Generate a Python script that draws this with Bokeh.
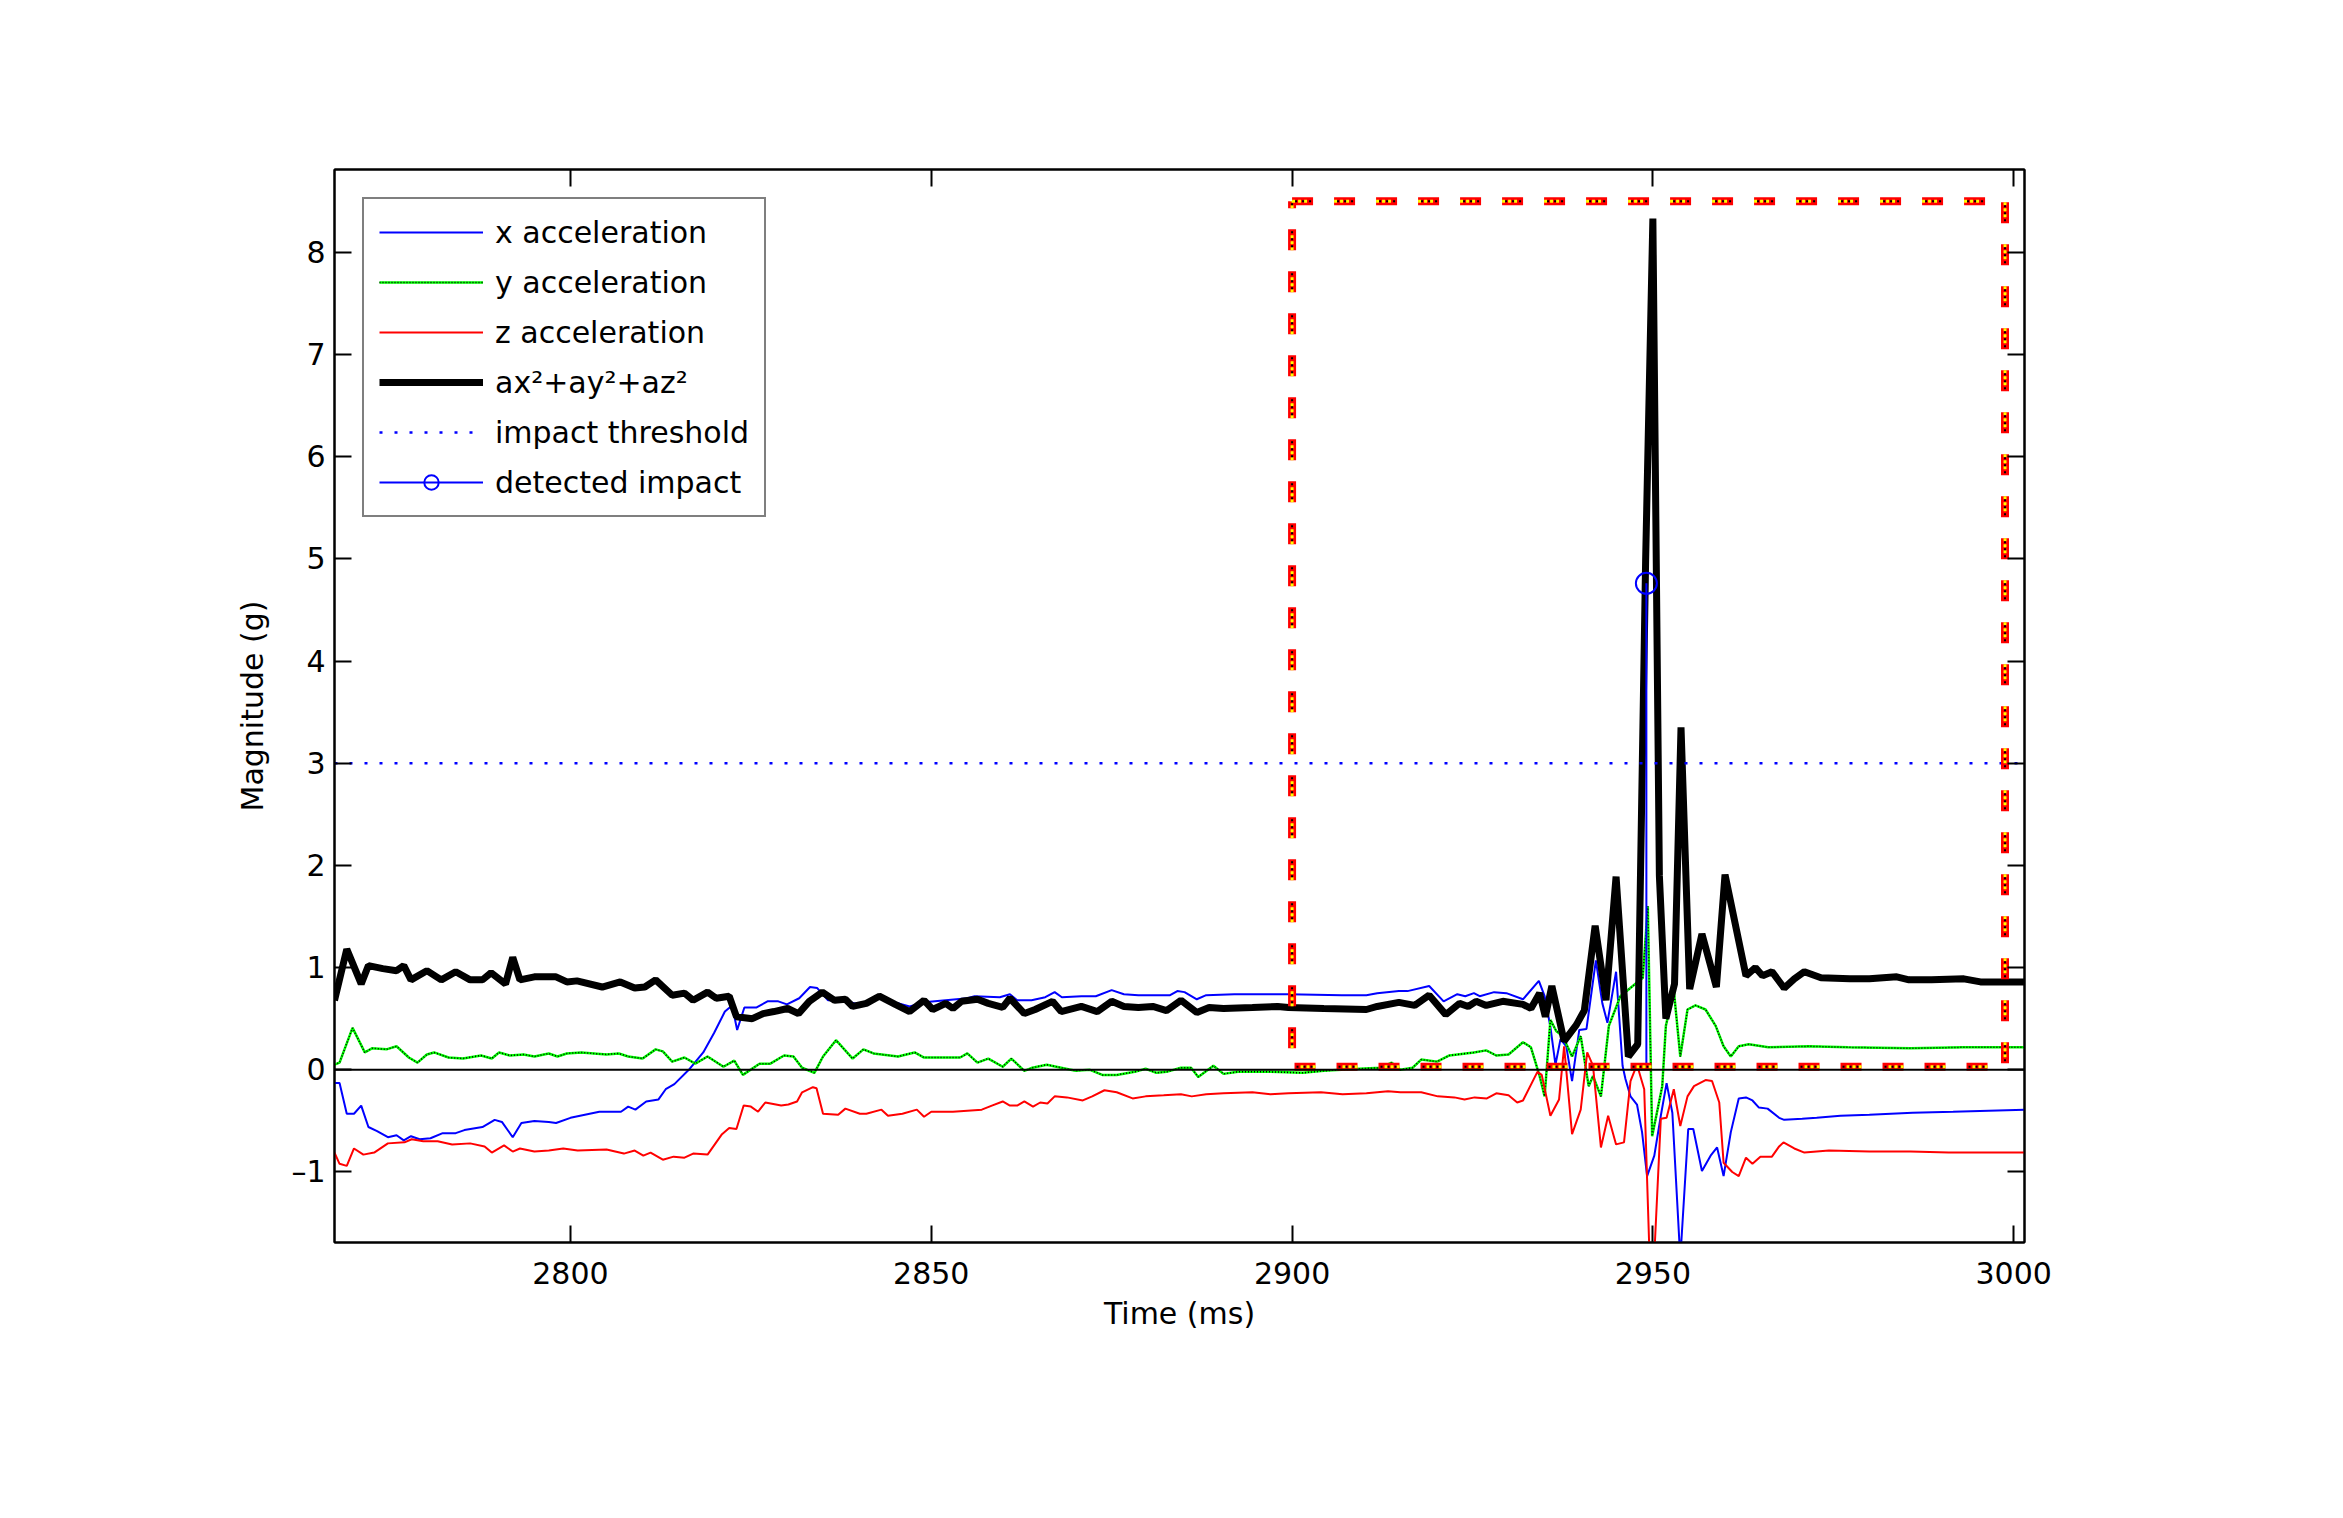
from bokeh.plotting import figure
from bokeh.models import Range1d, LinearAxis, FixedTicker, Span, Legend, LegendItem
from bokeh.embed import file_html
from bokeh.resources import INLINE

# x acceleration
ax_t = [2767.3, 2768.0, 2769.0, 2770.0, 2771.0, 2772.0, 2773.2, 2774.7, 2775.9, 2776.9,
        2777.9, 2779.1, 2780.6, 2782.3, 2784.1, 2785.3, 2787.8, 2789.5, 2790.5, 2792.0,
        2793.2, 2795.0, 2797.0, 2798.0, 2800.0, 2802.0, 2804.0, 2807.0, 2808.0, 2809.0,
        2810.5, 2812.2, 2813.2, 2814.4, 2816.4, 2818.4, 2819.9, 2821.4, 2822.4, 2823.1,
        2824.1, 2825.8, 2827.3, 2828.8, 2830.0, 2831.7, 2833.2, 2834.2, 2835.7, 2838.2,
        2840.0, 2843.0, 2845.0, 2847.0, 2849.0, 2852.0, 2855.0, 2856.0, 2859.5, 2860.9,
        2861.9, 2863.9, 2865.8, 2867.1, 2868.1, 2870.8, 2872.8, 2875.0, 2876.7, 2878.7,
        2883.1, 2884.1, 2885.1, 2886.8, 2888.1, 2892.0, 2899.5, 2906.9, 2910.3, 2911.8,
        2914.8, 2916.0, 2919.0, 2921.0, 2922.9, 2924.0, 2925.2, 2926.0, 2928.0, 2929.7,
        2932.0, 2934.2, 2935.0, 2935.8, 2936.5, 2937.2, 2938.0, 2938.8, 2939.8, 2940.8,
        2942.1, 2943.0, 2943.7, 2944.9, 2945.8, 2946.2, 2946.9, 2947.8, 2948.5, 2949.2,
        2950.2, 2951.1, 2951.9, 2952.7, 2953.8, 2954.9, 2955.6, 2956.8, 2958.0, 2958.9,
        2959.8, 2960.8, 2961.9, 2962.9, 2963.8, 2964.7, 2965.9, 2967.5, 2968.2, 2970.7,
        2972.7, 2976.0, 2980.0, 2986.0, 2991.6, 3001.5]
ax_v = [-0.13, -0.13, -0.43, -0.43, -0.35, -0.56, -0.60, -0.66, -0.64, -0.69,
        -0.65, -0.68, -0.67, -0.62, -0.62, -0.59, -0.56, -0.49, -0.51, -0.66,
        -0.52, -0.50, -0.51, -0.52, -0.47, -0.44, -0.41, -0.41, -0.36, -0.39,
        -0.31, -0.29, -0.19, -0.14, 0.00, 0.17, 0.36, 0.57, 0.63, 0.39,
        0.61, 0.61, 0.67, 0.67, 0.64, 0.70, 0.81, 0.80, 0.68, 0.67,
        0.64, 0.70, 0.66, 0.62, 0.66, 0.68, 0.70, 0.72, 0.71, 0.74,
        0.68, 0.68, 0.71, 0.76, 0.71, 0.72, 0.72, 0.78, 0.74, 0.73,
        0.73, 0.77, 0.76, 0.69, 0.73, 0.74, 0.74, 0.73, 0.73, 0.75,
        0.77, 0.77, 0.82, 0.67, 0.74, 0.72, 0.75, 0.72, 0.76, 0.75,
        0.69, 0.87, 0.72, 0.42, 0.05, 0.30, 0.23, -0.11, 0.39, 0.40,
        1.07, 0.65, 0.46, 0.96, 0.04, -0.09, -0.26, -0.34, -0.61, -1.04,
        -0.84, -0.45, -0.13, -0.42, -1.85, -0.58, -0.58, -0.99, -0.84, -0.76,
        -1.04, -0.61, -0.28, -0.27, -0.30, -0.37, -0.38, -0.47, -0.49, -0.48,
        -0.47, -0.45, -0.44, -0.42, -0.41, -0.39]

# y acceleration
ay_t = [2767.3, 2768.0, 2769.8, 2771.5, 2772.5, 2774.5, 2775.9, 2777.6, 2778.8, 2780.1,
        2781.1, 2783.1, 2785.1, 2787.6, 2789.1, 2790.1, 2791.6, 2793.5, 2795.0, 2797.0,
        2798.2, 2799.5, 2801.5, 2805.0, 2806.7, 2808.0, 2810.0, 2811.8, 2812.8, 2814.1,
        2815.8, 2817.3, 2819.0, 2821.2, 2822.7, 2823.9, 2826.2, 2827.7, 2829.6, 2830.9,
        2832.1, 2833.8, 2835.0, 2836.8, 2839.1, 2840.6, 2842.0, 2845.4, 2847.7, 2849.0,
        2851.5, 2854.0, 2855.0, 2856.4, 2857.9, 2859.9, 2861.1, 2862.9, 2864.0, 2866.0,
        2868.0, 2870.0, 2872.0, 2873.7, 2875.7, 2878.2, 2879.7, 2881.2, 2882.6, 2884.6,
        2886.0, 2887.0, 2889.1, 2890.5, 2892.5, 2897.0, 2901.5, 2904.4, 2909.3, 2912.3,
        2913.8, 2915.0, 2916.7, 2917.9, 2920.1, 2921.8, 2925.2, 2926.9, 2928.3, 2930.0,
        2932.0, 2933.1, 2934.3, 2935.0, 2935.8, 2936.6, 2937.5, 2938.8, 2940.0, 2941.1,
        2941.7, 2942.8, 2943.9, 2945.5, 2948.6, 2949.3, 2949.9, 2951.3, 2951.8, 2952.9,
        2953.8, 2954.8, 2955.9, 2957.3, 2958.7, 2959.8, 2960.8, 2961.9, 2963.3, 2966.0,
        2971.6, 2977.0, 2985.7, 2993.0, 3001.5]
ay_v = [0.05, 0.07, 0.41, 0.17, 0.21, 0.20, 0.23, 0.12, 0.07, 0.15,
        0.17, 0.12, 0.11, 0.14, 0.11, 0.17, 0.14, 0.15, 0.13, 0.16,
        0.13, 0.16, 0.17, 0.15, 0.16, 0.13, 0.11, 0.20, 0.18, 0.08,
        0.12, 0.06, 0.13, 0.03, 0.09, -0.05, 0.06, 0.06, 0.14, 0.13,
        0.02, -0.03, 0.13, 0.29, 0.11, 0.20, 0.16, 0.13, 0.17, 0.12,
        0.12, 0.12, 0.16, 0.07, 0.11, 0.03, 0.11, -0.01, 0.02, 0.05,
        0.02, -0.01, 0.00, -0.05, -0.05, -0.02, 0.01, -0.03, -0.02, 0.02,
        0.02, -0.07, 0.04, -0.04, -0.02, -0.02, -0.03, -0.01, 0.01, 0.02,
        0.07, 0.00, 0.02, 0.10, 0.08, 0.14, 0.17, 0.19, 0.14, 0.15,
        0.27, 0.22, -0.06, -0.26, 0.49, 0.38, 0.33, 0.13, 0.33, -0.16,
        -0.06, -0.26, 0.43, 0.72, 0.90, 1.60, -0.65, -0.16, 0.43, 0.78,
        0.13, 0.59, 0.63, 0.59, 0.43, 0.23, 0.13, 0.23, 0.25, 0.22,
        0.23, 0.22, 0.21, 0.22, 0.22]

# z acceleration
az_t = [2767.3, 2768.0, 2769.0, 2770.0, 2771.3, 2772.8, 2774.7, 2777.0, 2778.0, 2779.6,
        2781.6, 2783.6, 2786.1, 2788.1, 2789.1, 2790.8, 2792.0, 2793.0, 2795.0, 2797.0,
        2799.0, 2801.0, 2805.0, 2807.4, 2808.9, 2810.1, 2811.1, 2812.8, 2814.3, 2815.8,
        2817.0, 2819.0, 2821.0, 2822.0, 2823.0, 2824.0, 2825.0, 2826.0, 2827.0, 2829.2,
        2830.2, 2831.4, 2832.1, 2833.6, 2834.1, 2835.0, 2837.1, 2838.1, 2840.1, 2841.0,
        2843.1, 2844.0, 2846.0, 2848.0, 2849.0, 2850.0, 2853.0, 2857.0, 2858.4, 2859.9,
        2860.9, 2861.9, 2862.9, 2864.1, 2865.1, 2866.1, 2867.1, 2868.8, 2871.0, 2872.3,
        2874.0, 2875.7, 2877.9, 2879.7, 2882.2, 2884.6, 2886.1, 2888.1, 2890.5, 2894.5,
        2897.0, 2899.5, 2904.0, 2907.0, 2910.3, 2913.3, 2915.0, 2917.9, 2920.2, 2922.5,
        2923.9, 2925.3, 2927.0, 2928.3, 2930.0, 2931.2, 2932.0, 2934.0, 2934.6, 2935.8,
        2937.0, 2937.7, 2938.8, 2940.0, 2940.9, 2941.7, 2942.8, 2943.8, 2944.9, 2946.0,
        2946.9, 2947.8, 2948.8, 2949.8, 2951.1, 2951.9, 2952.9, 2953.8, 2954.8, 2955.7,
        2957.3, 2958.2, 2959.2, 2959.8, 2961.0, 2961.9, 2962.9, 2963.8, 2964.9, 2966.5,
        2967.5, 2968.1, 2969.6, 2971.0, 2974.4, 2980.0, 2985.7, 2991.0, 3001.5]
az_v = [-0.81, -0.92, -0.94, -0.77, -0.83, -0.81, -0.72, -0.71, -0.68, -0.70,
        -0.70, -0.73, -0.72, -0.75, -0.81, -0.74, -0.80, -0.77, -0.80, -0.79,
        -0.77, -0.79, -0.78, -0.82, -0.79, -0.84, -0.81, -0.88, -0.85, -0.86,
        -0.82, -0.83, -0.63, -0.57, -0.58, -0.35, -0.36, -0.41, -0.32, -0.35,
        -0.34, -0.31, -0.22, -0.17, -0.18, -0.43, -0.44, -0.38, -0.43, -0.43,
        -0.39, -0.45, -0.43, -0.39, -0.46, -0.41, -0.41, -0.39, -0.35, -0.31,
        -0.35, -0.35, -0.31, -0.36, -0.32, -0.33, -0.26, -0.27, -0.30, -0.26,
        -0.20, -0.22, -0.28, -0.26, -0.25, -0.24, -0.26, -0.24, -0.23, -0.22,
        -0.24, -0.23, -0.22, -0.24, -0.23, -0.21, -0.22, -0.22, -0.26, -0.27,
        -0.29, -0.27, -0.28, -0.23, -0.25, -0.32, -0.30, -0.02, -0.05, -0.45,
        -0.29, 0.23, -0.63, -0.39, 0.17, 0.04, -0.76, -0.45, -0.73, -0.71,
        -0.11, 0.05, -0.19, -2.40, -0.48, -0.47, -0.19, -0.55, -0.26, -0.16,
        -0.10, -0.11, -0.32, -0.91, -1.00, -1.04, -0.86, -0.92, -0.85, -0.85,
        -0.75, -0.71, -0.77, -0.81, -0.79, -0.80, -0.80, -0.81, -0.81]

# magnitude ax^2+ay^2+az^2
mag_t = [2767.3, 2769.0, 2771.0, 2772.0, 2774.0, 2775.9, 2776.9, 2777.9, 2780.1, 2782.1,
         2784.1, 2786.1, 2787.8, 2789.0, 2791.0, 2792.0, 2793.0, 2795.0, 2798.0, 2799.5,
         2800.9, 2804.4, 2806.9, 2808.9, 2810.3, 2811.8, 2814.1, 2815.8, 2817.0, 2819.0,
         2820.2, 2822.0, 2823.0, 2825.2, 2826.7, 2828.2, 2830.1, 2831.6, 2833.1, 2834.9,
         2836.6, 2838.1, 2839.1, 2841.0, 2842.8, 2845.0, 2847.0, 2849.0, 2850.2, 2852.0,
         2853.0, 2854.2, 2856.4, 2857.9, 2859.9, 2860.9, 2862.9, 2864.4, 2866.8, 2868.0,
         2870.8, 2873.0, 2875.0, 2876.7, 2878.7, 2880.7, 2882.6, 2884.6, 2886.8, 2888.5,
         2890.5, 2894.5, 2898.0, 2899.5, 2904.4, 2910.3, 2911.8, 2914.8, 2917.0, 2919.0,
         2921.3, 2923.2, 2924.4, 2925.5, 2926.9, 2929.2, 2932.0, 2933.1, 2934.3, 2935.1,
         2936.0, 2937.7, 2939.4, 2940.5, 2942.0, 2943.5, 2944.9, 2946.6, 2947.9, 2949.0,
         2950.0, 2950.9, 2951.8, 2953.0, 2953.9, 2955.1, 2956.8, 2958.8, 2960.0, 2962.9,
         2964.2, 2965.2, 2966.5, 2968.2, 2969.6, 2971.0, 2973.3, 2977.3, 2980.0, 2983.8,
         2985.5, 2988.6, 2993.1, 2995.4, 3001.5]
mag_v = [0.68, 1.18, 0.84, 1.02, 0.99, 0.97, 1.02, 0.88, 0.97, 0.88,
         0.96, 0.88, 0.88, 0.95, 0.84, 1.10, 0.88, 0.91, 0.91, 0.86,
         0.87, 0.81, 0.86, 0.80, 0.81, 0.88, 0.73, 0.75, 0.68, 0.76,
         0.70, 0.72, 0.52, 0.50, 0.55, 0.57, 0.60, 0.55, 0.67, 0.76,
         0.68, 0.69, 0.62, 0.65, 0.72, 0.64, 0.57, 0.68, 0.59, 0.65,
         0.60, 0.67, 0.69, 0.65, 0.61, 0.70, 0.55, 0.59, 0.67, 0.57,
         0.62, 0.57, 0.67, 0.62, 0.61, 0.62, 0.58, 0.68, 0.56, 0.61,
         0.60, 0.61, 0.62, 0.61, 0.60, 0.59, 0.62, 0.66, 0.63, 0.73,
         0.54, 0.65, 0.62, 0.67, 0.63, 0.67, 0.64, 0.60, 0.75, 0.52,
         0.82, 0.28, 0.44, 0.58, 1.41, 0.68, 1.89, 0.13, 0.25, 5.00,
         8.33, 1.90, 0.50, 0.84, 3.35, 0.79, 1.33, 0.81, 1.91, 0.92,
         1.00, 0.92, 0.96, 0.80, 0.89, 0.96, 0.90, 0.89, 0.89, 0.91,
         0.88, 0.88, 0.89, 0.86, 0.86]

# impact threshold and detected impact
thr_t = [2767.3, 3001.5]
thr_v = [3.0, 3.0]
imp_t = [2949.1]
imp_v = [4.76]

# highlighted window
box_t = [2900.0, 2998.8, 2998.8, 2900.0, 2900.0]
box_v = [8.5, 8.5, 0.03, 0.03, 8.5]

x_ticks = [2800, 2850, 2900, 2950, 3000]
y_ticks = [-1, 0, 1, 2, 3, 4, 5, 6, 7, 8]

FONT = "DejaVu Sans"
FS = "30px"

p = figure(width=2335, height=1510, output_backend="svg", toolbar_location=None,
           x_range=Range1d(2767.3, 3001.5), y_range=Range1d(-1.69, 8.81),
           min_border_left=334, min_border_right=311, min_border_top=169, min_border_bottom=268)
p.xgrid.visible = False
p.ygrid.visible = False
p.outline_line_color = "black"
p.outline_line_width = 2
p.background_fill_color = "white"
p.border_fill_color = "white"

bottom = p.below[0]
left = p.left[0]

bottom.ticker = FixedTicker(ticks=x_ticks)
left.ticker = FixedTicker(ticks=y_ticks)
left.major_label_overrides = {-1: "\u20131"}
bottom.axis_label = "Time (ms)"
left.axis_label = "Magnitude (g)"

# mirrored axes for the box look
top = LinearAxis(ticker=FixedTicker(ticks=x_ticks),
                 major_label_overrides={t: "" for t in x_ticks})
right = LinearAxis(ticker=FixedTicker(ticks=y_ticks),
                   major_label_overrides={t: "" for t in y_ticks})
p.add_layout(top, "above")
p.add_layout(right, "right")

for ax in [bottom, left, top, right]:
    ax.axis_line_color = "black"
    ax.axis_line_width = 2
    ax.major_tick_line_color = "black"
    ax.major_tick_line_width = 2
    ax.major_tick_in = 17
    ax.major_tick_out = 0
    ax.minor_tick_line_color = None
    ax.major_label_text_font = FONT
    ax.major_label_text_font_size = FS
    ax.major_label_text_color = "black"
    ax.axis_label_text_font = FONT
    ax.axis_label_text_font_size = FS
    ax.axis_label_text_font_style = "normal"
    ax.axis_label_text_color = "black"

bottom.major_label_standoff = 19
bottom.axis_label_standoff = 9
left.major_label_standoff = 9
left.axis_label_standoff = 18

p.add_layout(Span(location=0, dimension="width", line_color="black", line_width=2))

r_x = p.line(ax_t, ax_v, line_color="#0000ff", line_width=2)
r_y = p.line(ay_t, ay_v, line_color="#00ff00", line_width=2.5)
r_y2 = p.line(ay_t, ay_v, line_color="black", line_width=1.5, line_dash="1 2")
r_z = p.line(az_t, az_v, line_color="#ff0000", line_width=2)
r_m = p.line(mag_t, mag_v, line_color="black", line_width=7)
r_th = p.line(thr_t, thr_v, line_color="#0000ff", line_width=2.5, line_dash="3 12")
r_st = p.segment(x0=imp_t, y0=[0], x1=imp_t, y1=imp_v, line_color="#0000ff", line_width=2)
r_ci = p.scatter(imp_t, imp_v, marker="circle", size=21, fill_color=None,
                 line_color="#0000ff", line_width=2)

# dashed window outline
p.line(box_t, box_v, line_color="#ff0000", line_width=8, line_dash="21 21")
p.line(box_t, box_v, line_color="#ffff00", line_width=3, line_dash="3 3 3 3 3 27")
p.line(box_t, box_v, line_color="black", line_width=2, line_dash="2 5 2 5 2 26",
       line_dash_offset=-3)

legend = Legend(items=[
    LegendItem(label="x acceleration", renderers=[r_x]),
    LegendItem(label="y acceleration", renderers=[r_y, r_y2]),
    LegendItem(label="z acceleration", renderers=[r_z]),
    LegendItem(label="ax\u00b2+ay\u00b2+az\u00b2", renderers=[r_m]),
    LegendItem(label="impact threshold", renderers=[r_th]),
    LegendItem(label="detected impact", renderers=[r_st, r_ci]),
], location="top_left")
legend.margin = 28
legend.padding = 15
legend.spacing = 14
legend.glyph_width = 104
legend.glyph_height = 36
legend.label_height = 36
legend.label_standoff = 12
legend.label_text_font = FONT
legend.label_text_font_size = FS
legend.label_text_color = "black"
legend.border_line_color = "black"
legend.border_line_width = 2.5
legend.background_fill_color = "white"
legend.background_fill_alpha = 1.0
p.add_layout(legend, "center")

open("out.html", "w").write(file_html(p, INLINE))
